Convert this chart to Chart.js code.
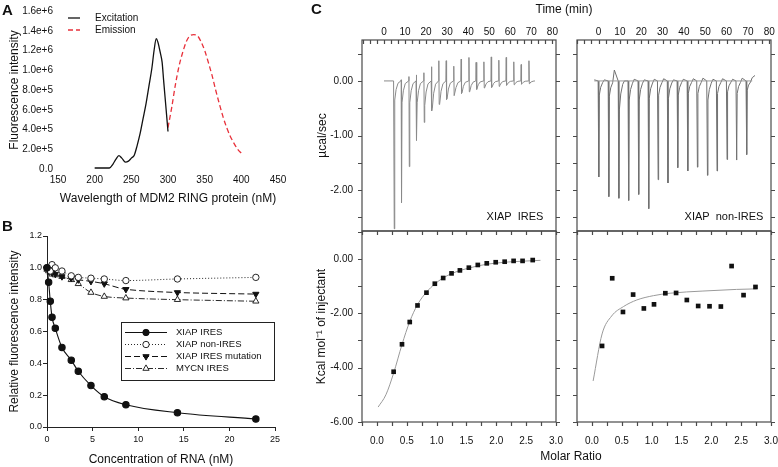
<!DOCTYPE html>
<html>
<head>
<meta charset="utf-8">
<script src="https://cdn.jsdelivr.net/npm/chart.js@4.4.0/dist/chart.umd.min.js"></script>
<style>
  html, body { margin: 0; padding: 0; background: #fff; }
  #page { position: relative; width: 778px; height: 467px; overflow: hidden; font-family: "Liberation Sans", Arial, sans-serif; color: #111; }
  #page canvas { position: absolute; }
  .lbl { position: absolute; white-space: nowrap; line-height: 1; transform: translate(-50%, -50%); }
  .panel { font-weight: bold; font-size: 15px; transform: none; }
</style>
</head>
<body>
<div id="page">
  <canvas id="chartA" width="300" height="212" style="left:0;top:0"></canvas>
  <canvas id="chartB" width="300" height="252" style="left:0;top:215px"></canvas>
  <canvas id="chartC1" width="262" height="252" style="left:300px;top:0"></canvas>
  <canvas id="chartC2" width="218" height="252" style="left:560px;top:0"></canvas>
  <canvas id="chartC3" width="280" height="257" style="left:300px;top:210px"></canvas>
  <canvas id="chartC4" width="235" height="257" style="left:560px;top:210px"></canvas>
  <div class="lbl panel" style="left:2px;top:2px">A</div>
  <div class="lbl panel" style="left:2px;top:218px">B</div>
  <div class="lbl panel" style="left:311px;top:1px">C</div>
  <div class="lbl" style="left:564px;top:9px;font-size:12px">Time (min)</div>
  <div class="lbl" style="left:571px;top:456px;font-size:12px">Molar Ratio</div>
  <div class="lbl" style="left:515px;top:216px;font-size:11px">XIAP&nbsp;&nbsp;IRES</div>
  <div class="lbl" style="left:724px;top:216px;font-size:11px">XIAP&nbsp;&nbsp;non-IRES</div>
</div>
<script>
// ---- Panel A: excitation / emission spectra ----
const excWave = [200, 205, 210, 215, 220, 225, 229, 233, 237, 242, 246, 250, 254, 258, 262, 266, 270, 274, 278, 281, 284, 286, 288, 290, 292, 294, 297, 300];
const excVals = [1e4, 1e4, 1e4, 1e4, 1e4, 5e4, 1.0e5, 1.35e5, 1.1e5, 7e4, 8e4, 1.1e5, 1.4e5, 2.4e5, 3.6e5, 5.1e5, 6.6e5, 8.4e5, 1.02e6, 1.2e6, 1.32e6, 1.29e6, 1.23e6, 1.16e6, 1.08e6, 9.0e5, 6.4e5, 3.8e5];
const emWave = [300, 305, 310, 315, 320, 325, 330, 335, 340, 345, 350, 355, 360, 365, 370, 375, 380, 385, 390, 395, 400];
const emVals = [4.2e5, 6.2e5, 8.5e5, 1.04e6, 1.18e6, 1.29e6, 1.35e6, 1.36e6, 1.35e6, 1.29e6, 1.2e6, 1.08e6, 9.5e5, 8.0e5, 6.6e5, 5.3e5, 4.2e5, 3.3e5, 2.6e5, 2.0e5, 1.6e5];
const waveTicks = [150, 200, 250, 300, 350, 400, 450];
const intensityTicks = [0, 2e5, 4e5, 6e5, 8e5, 1e6, 1.2e6, 1.4e6, 1.6e6];

// ---- Panel B: relative fluorescence vs RNA ----
const rnaConc = [0, 0.18, 0.36, 0.55, 0.91, 1.64, 2.66, 3.43, 4.82, 6.28, 8.65, 14.3, 22.9];
const xiapIres = [1.0, 0.91, 0.79, 0.69, 0.62, 0.50, 0.42, 0.35, 0.26, 0.19, 0.14, 0.09, 0.05];
const xiapNonIres = [1.0, 0.99, 0.98, 1.02, 1.0, 0.98, 0.95, 0.94, 0.935, 0.93, 0.92, 0.93, 0.94];
const xiapMutation = [1.0, 0.99, 1.0, 0.97, 0.96, 0.945, 0.935, 0.925, 0.915, 0.9, 0.865, 0.845, 0.835];
const mycnIres = [0.99, 0.98, 0.97, 0.96, 0.955, 0.945, 0.925, 0.9, 0.845, 0.82, 0.81, 0.80, 0.79];
const rnaTicks = [0, 5, 10, 15, 20, 25];
const relTicks = [0, 0.2, 0.4, 0.6, 0.8, 1.0, 1.2];

// ---- Panel C: ITC raw heat (injection time, peak heights) ----
const injTimeIres = [4.75, 8.2, 11.9, 15.4, 19.0, 22.6, 26.1, 29.6, 33.2, 36.7, 40.4, 43.8, 47.5, 51.0, 54.6, 58.1, 61.7, 65.2, 68.9];
const negPeakIres = [-2.71, -2.23, -1.57, -1.09, -0.76, -0.55, -0.43, -0.34, -0.27, -0.23, -0.20, -0.16, -0.13, -0.12, -0.10, -0.08, -0.07, -0.06, -0.05];
const posPeakIres = [0, 0.02, 0.08, 0.11, 0.15, 0.26, 0.37, 0.37, 0.27, 0.40, 0.43, 0.34, 0.35, 0.44, 0.38, 0.43, 0.35, 0.30, 0.37];
const shoulderIres = [-0.35, -0.4, -0.4, -0.4, -0.45, -0.5, -0.42, -0.33, -0.27, -0.22, -0.19, -0.15, -0.12, -0.11, -0.09, -0.07, -0.06, -0.05, -0.04];

const injTimeNon = [0, 4.7, 9.4, 14.0, 18.7, 23.4, 27.8, 32.4, 37.0, 41.7, 46.2, 50.9, 55.4, 60.1, 64.6, 69.3];
const negPeakNon = [-1.76, -2.12, -2.15, -2.19, -2.08, -2.34, -1.81, -1.87, -1.59, -1.65, -1.58, -1.73, -1.65, -1.44, -1.45, -1.35];
const shoulderNon = [-0.26, -0.28, -0.53, -0.35, -0.35, -0.32, -0.26, -0.32, -0.26, -0.23, -0.23, -0.35, -0.23, -0.2, -0.23, -0.17];
const baselineNon = [0.02, 0.2, 0.0, 0.03, 0.02, 0.03, 0.04, 0.02, 0.03, 0.04, 0.05, 0.03, 0.04, 0.03, 0.05, 0.06];
const timeTicks = [0, 10, 20, 30, 40, 50, 60, 70, 80];
const rawHeatTicks = [0, -1, -2];

// ---- Panel C: integrated heats ----
const ratioIres = [0.28, 0.42, 0.55, 0.68, 0.83, 0.97, 1.11, 1.25, 1.39, 1.54, 1.69, 1.84, 1.99, 2.14, 2.29, 2.44, 2.61];
const heatIres = [-4.15, -3.14, -2.32, -1.71, -1.24, -0.91, -0.70, -0.53, -0.42, -0.32, -0.22, -0.16, -0.12, -0.10, -0.07, -0.07, -0.04];
const fitRatioIres = [0.02, 0.15, 0.28, 0.42, 0.55, 0.68, 0.83, 0.97, 1.1, 1.25, 1.4, 1.55, 1.7, 1.85, 2.0, 2.2, 2.45, 2.74];
const fitHeatIres = [-5.45, -5.0, -4.2, -3.15, -2.3, -1.68, -1.22, -0.92, -0.71, -0.54, -0.42, -0.33, -0.25, -0.19, -0.15, -0.11, -0.08, -0.05];

const ratioNon = [0.17, 0.34, 0.52, 0.69, 0.87, 1.04, 1.23, 1.41, 1.59, 1.78, 1.97, 2.16, 2.34, 2.54, 2.74];
const heatNon = [-3.20, -0.71, -1.95, -1.31, -1.82, -1.67, -1.26, -1.25, -1.51, -1.73, -1.74, -1.75, -0.26, -1.33, -1.03];
const fitRatioNon = [0.02, 0.17, 0.33, 0.53, 0.75, 1.03, 1.31, 1.86, 2.42, 2.76];
const fitHeatNon = [-4.49, -2.76, -2.10, -1.75, -1.51, -1.35, -1.26, -1.18, -1.12, -1.10];
const ratioTicks = [0, 0.5, 1.0, 1.5, 2.0, 2.5, 3.0];
const heatTicks = [0, -2, -4, -6];

Chart.defaults.font.family = '"Liberation Sans", Arial, sans-serif';
Chart.defaults.color = '#111';
Chart.defaults.animation = false;

const pairs = (xs, ys) => xs.map((x, i) => ({ x: x, y: ys[i] }));
const fixTicks = list => s => { s.ticks = list.map(v => ({ value: v })); };
const range = (a, b, step) => { const out = []; for (let v = a; v <= b + 1e-9; v += step) out.push(+v.toFixed(4)); return out; };
const noGrid = { display: false, drawTicks: false };

// frame with mirrored ticks for panel C
const framePlugin = {
  id: 'frame',
  afterDraw(chart, args, opts) {
    if (!opts.on) return;
    const { ctx, chartArea: a, scales: { x, y } } = chart;
    const L = 4;
    ctx.save();
    ctx.strokeStyle = '#4a4a4a';
    ctx.lineWidth = 1.2;
    ctx.strokeRect(a.left, a.top, a.right - a.left, a.bottom - a.top);
    ctx.beginPath();
    opts.xt.forEach(v => {
      const px = Math.round(x.getPixelForValue(v)) + 0.5;
      ctx.moveTo(px, a.top); ctx.lineTo(px, a.top + L);
      if (opts.bottomOut) { ctx.moveTo(px, a.bottom); ctx.lineTo(px, a.bottom + L); }
    });
    opts.yt.forEach(v => {
      const py = Math.round(y.getPixelForValue(v)) + 0.5;
      ctx.moveTo(a.left - L, py); ctx.lineTo(a.left, py);
      ctx.moveTo(a.right, py); ctx.lineTo(a.right + L, py);
    });
    ctx.stroke();
    ctx.restore();
  }
};
Chart.register(framePlugin);

// legend drawn from the datasets
function drawLegend(chart, rows) {
  const ctx = chart.ctx;
  ctx.save();
  if (rows.box) {
    ctx.strokeStyle = '#222';
    ctx.lineWidth = 1;
    ctx.strokeRect(rows.box[0] + 0.5, rows.box[1] + 0.5, rows.box[2], rows.box[3]);
  }
  chart.data.datasets.forEach((ds, i) => {
    const yy = rows.y0 + i * rows.dy;
    ctx.strokeStyle = ds.borderColor;
    ctx.lineWidth = ds.borderWidth;
    ctx.setLineDash(ds.borderDash || []);
    ctx.beginPath();
    ctx.moveTo(rows.x0, yy); ctx.lineTo(rows.x1, yy);
    ctx.stroke();
    ctx.setLineDash([]);
    if (ds.pointRadius > 0) {
      ctx.fillStyle = ds.pointBackgroundColor;
      ctx.strokeStyle = ds.pointBorderColor;
      ctx.lineWidth = ds.pointBorderWidth || 1;
      Chart.helpers.drawPoint(ctx, {
        pointStyle: ds.pointStyle, rotation: ds.pointRotation || 0, radius: ds.pointRadius, borderWidth: ds.pointBorderWidth || 1
      }, (rows.x0 + rows.x1) / 2, yy);
    }
    ctx.fillStyle = '#111';
    ctx.font = rows.font;
    ctx.textBaseline = 'middle';
    ctx.fillText(ds.label, rows.tx, yy);
  });
  ctx.restore();
}

// ---------------- Chart A ----------------
new Chart(document.getElementById('chartA'), {
  type: 'line',
  data: {
    datasets: [
      { label: 'Excitation', data: pairs(excWave, excVals), borderColor: '#111', borderWidth: 1.3, pointRadius: 0, cubicInterpolationMode: 'monotone' },
      { label: 'Emission', data: pairs(emWave, emVals), borderColor: '#e8313b', borderWidth: 1.3, borderDash: [5, 3], pointRadius: 0, cubicInterpolationMode: 'monotone' }
    ]
  },
  options: {
    responsive: false,
    layout: { padding: { top: 11, right: 22, left: 0, bottom: 0 } },
    plugins: { legend: { display: false }, tooltip: { enabled: false } },
    scales: {
      x: {
        type: 'linear', min: 150, max: 450,
        afterBuildTicks: fixTicks(waveTicks),
        afterFit: s => { s.height = 43; },
        grid: noGrid, border: { display: false },
        ticks: { font: { size: 10 }, padding: 5 },
        title: { display: true, text: 'Wavelength of MDM2 RING protein (nM)', font: { size: 12 }, padding: { top: 0, bottom: 6 } }
      },
      y: {
        min: 0, max: 1.6e6,
        afterBuildTicks: fixTicks(intensityTicks),
        afterFit: s => { s.width = 58; },
        grid: noGrid, border: { display: false },
        ticks: { font: { size: 10 }, padding: 5, callback: v => v === 0 ? '0.0' : v.toExponential(1) },
        title: { display: true, text: 'Fluorescence intensity', font: { size: 12 }, padding: { top: 7, bottom: 0 } }
      }
    }
  },
  plugins: [{
    id: 'legendA',
    afterDraw: c => drawLegend(c, { x0: 68, x1: 80, tx: 95, y0: 18, dy: 12, font: '10px "Liberation Sans", Arial' })
  }]
});

// ---------------- Chart B ----------------
const blk = '#111';
new Chart(document.getElementById('chartB'), {
  type: 'line',
  data: {
    datasets: [
      { label: 'XIAP IRES', data: pairs(rnaConc, xiapIres), borderColor: blk, borderWidth: 1.1, pointStyle: 'circle', pointRadius: 3.2, pointBackgroundColor: blk, pointBorderColor: blk, cubicInterpolationMode: 'monotone', clip: false },
      { label: 'XIAP non-IRES', data: pairs(rnaConc, xiapNonIres), borderColor: blk, borderWidth: 0.9, borderDash: [1, 2], pointStyle: 'circle', pointRadius: 3.2, pointBackgroundColor: '#fff', pointBorderColor: blk, pointBorderWidth: 0.9, tension: 0.3, clip: false },
      { label: 'XIAP IRES mutation', data: pairs(rnaConc, xiapMutation), borderColor: blk, borderWidth: 1, borderDash: [6, 3], pointStyle: 'triangle', pointRotation: 180, pointRadius: 3.6, pointBackgroundColor: blk, pointBorderColor: blk, tension: 0.3, clip: false },
      { label: 'MYCN IRES', data: pairs(rnaConc, mycnIres), borderColor: blk, borderWidth: 0.9, borderDash: [6, 2, 1, 2], pointStyle: 'triangle', pointRadius: 3.6, pointBackgroundColor: '#fff', pointBorderColor: blk, pointBorderWidth: 0.9, tension: 0.3, clip: false }
    ]
  },
  options: {
    responsive: false,
    layout: { padding: { top: 21, right: 25, left: 0, bottom: 0 } },
    plugins: { legend: { display: false }, tooltip: { enabled: false } },
    scales: {
      x: {
        type: 'linear', min: 0, max: 25,
        afterBuildTicks: fixTicks(rnaTicks),
        afterFit: s => { s.height = 40; },
        grid: { display: true, drawOnChartArea: false, tickLength: 4, color: '#222' },
        border: { display: true, color: '#222' },
        ticks: { font: { size: 9 }, padding: 3 },
        title: { display: true, text: 'Concentration of RNA (nM)', font: { size: 12 }, padding: { top: 0, bottom: 0 } }
      },
      y: {
        min: 0, max: 1.2,
        afterBuildTicks: fixTicks(relTicks),
        afterFit: s => { s.width = 47; },
        grid: { display: true, drawOnChartArea: false, tickLength: 4, color: '#222' },
        border: { display: true, color: '#222' },
        ticks: { font: { size: 9 }, padding: 1, callback: v => v.toFixed(1) },
        title: { display: true, text: 'Relative fluorescence intensity', font: { size: 12 }, padding: { top: 7, bottom: 0 } }
      }
    }
  },
  plugins: [{
    id: 'legendB',
    afterDraw: c => drawLegend(c, { box: [121, 107, 153, 58], x0: 125, x1: 167, tx: 176, y0: 117.5, dy: 12, font: '9.5px "Liberation Sans", Arial' })
  }]
});

// ---------------- Chart C raw traces ----------------
function rawTrace(t0, t1, times, neg, pos, shoulder, base) {
  const pts = [{ x: t0, y: base ? base[0] : 0 }];
  times.forEach((t, i) => {
    pts.push({ x: t - 0.2, y: 0 });
    if (pos && pos[i] > 0) pts.push({ x: t - 0.05, y: pos[i] });
    pts.push({ x: t + 0.12, y: neg[i] });
    pts.push({ x: t + 0.35, y: shoulder[i] });
    pts.push({ x: t + 1.0, y: shoulder[i] * 0.45 });
    pts.push({ x: t + 1.9, y: shoulder[i] * 0.12 });
    if (base) pts.push({ x: t + 2.7, y: base[i] });
  });
  pts.push({ x: t1, y: base ? base[base.length - 1] + 0.04 : 0 });
  return pts;
}

const timeMinor = range(-10, 80, 10 / 3);
const ratioMinor = range(-0.25, 3.0, 0.25);

function itcTopOptions(xmin, xmax, yAxisW, showY, padRight) {
  return {
    responsive: false,
    layout: { padding: { top: 0, right: padRight, left: 0, bottom: 21 } },
    plugins: {
      legend: { display: false }, tooltip: { enabled: false },
      frame: { on: true, xt: timeMinor, yt: range(-2.5, 0.5, 0.5), bottomOut: false }
    },
    scales: {
      x: {
        type: 'linear', position: 'top', min: xmin, max: xmax,
        afterBuildTicks: fixTicks(timeTicks),
        afterFit: s => { s.height = 40; },
        grid: noGrid, border: { display: false },
        ticks: { font: { size: 10 }, padding: 2 }
      },
      y: {
        min: -2.75, max: 0.75,
        afterBuildTicks: fixTicks(rawHeatTicks),
        afterFit: s => { s.width = yAxisW; },
        grid: noGrid, border: { display: false },
        ticks: { display: showY, font: { size: 10 }, padding: 9, callback: v => v.toFixed(2) },
        title: { display: showY, text: 'µcal/sec', font: { size: 12 }, padding: { top: 15, bottom: 0 } }
      }
    }
  };
}

function itcBottomOptions(yAxisW, showY, padRight) {
  return {
    responsive: false,
    layout: { padding: { top: 21, right: padRight, left: 0, bottom: 0 } },
    plugins: {
      legend: { display: false }, tooltip: { enabled: false },
      frame: { on: true, xt: ratioMinor, yt: range(-6, 1, 1), bottomOut: true }
    },
    scales: {
      x: {
        type: 'linear', min: -0.25, max: 3.0,
        afterBuildTicks: fixTicks(ratioTicks),
        afterFit: s => { s.height = 45; },
        grid: noGrid, border: { display: false },
        ticks: { font: { size: 10 }, padding: 13, callback: v => v.toFixed(1) }
      },
      y: {
        min: -6, max: 1.03,
        afterBuildTicks: fixTicks(heatTicks),
        afterFit: s => { s.width = yAxisW; },
        grid: noGrid, border: { display: false },
        ticks: { display: showY, font: { size: 10 }, padding: 9, callback: v => v.toFixed(2) },
        title: { display: showY, text: 'Kcal mol\u207B\u00B9 of injectant', font: { size: 12 }, padding: { top: 14, bottom: 0 } }
      }
    }
  };
}

new Chart(document.getElementById('chartC1'), {
  type: 'line',
  data: {
    datasets: [
      { data: rawTrace(0, 71.7, injTimeIres, negPeakIres, posPeakIres, shoulderIres, null), borderColor: '#8a8a8a', borderWidth: 1, pointRadius: 0 }
    ]
  },
  options: itcTopOptions(-10.45, 81.7, 62, true, 6)
});

new Chart(document.getElementById('chartC2'), {
  type: 'line',
  data: {
    datasets: [
      { data: [{ x: -2, y: 0 }, { x: 72, y: 0 }], borderColor: '#9a9a9a', borderWidth: 1, pointRadius: 0 },
      { data: rawTrace(-2, 73.3, injTimeNon, negPeakNon, null, shoulderNon, baselineNon), borderColor: '#707070', borderWidth: 1, pointRadius: 0 }
    ]
  },
  options: itcTopOptions(-10.1, 80.8, 17, false, 7)
});

new Chart(document.getElementById('chartC3'), {
  type: 'line',
  data: {
    datasets: [
      { data: pairs(fitRatioIres, fitHeatIres), order: 2, borderColor: '#9a9a9a', borderWidth: 1, pointRadius: 0, cubicInterpolationMode: 'monotone' },
      { data: pairs(ratioIres, heatIres), order: 1, showLine: false, pointStyle: 'rect', pointRadius: 3.3, pointBorderWidth: 0, pointBackgroundColor: '#111' }
    ]
  },
  options: itcBottomOptions(62, true, 24)
});

new Chart(document.getElementById('chartC4'), {
  type: 'line',
  data: {
    datasets: [
      { data: pairs(fitRatioNon, fitHeatNon), order: 2, borderColor: '#9a9a9a', borderWidth: 1, pointRadius: 0, cubicInterpolationMode: 'monotone' },
      { data: pairs(ratioNon, heatNon), order: 1, showLine: false, pointStyle: 'rect', pointRadius: 3.3, pointBorderWidth: 0, pointBackgroundColor: '#111' }
    ]
  },
  options: itcBottomOptions(17, false, 24)
});
</script>
</body>
</html>
